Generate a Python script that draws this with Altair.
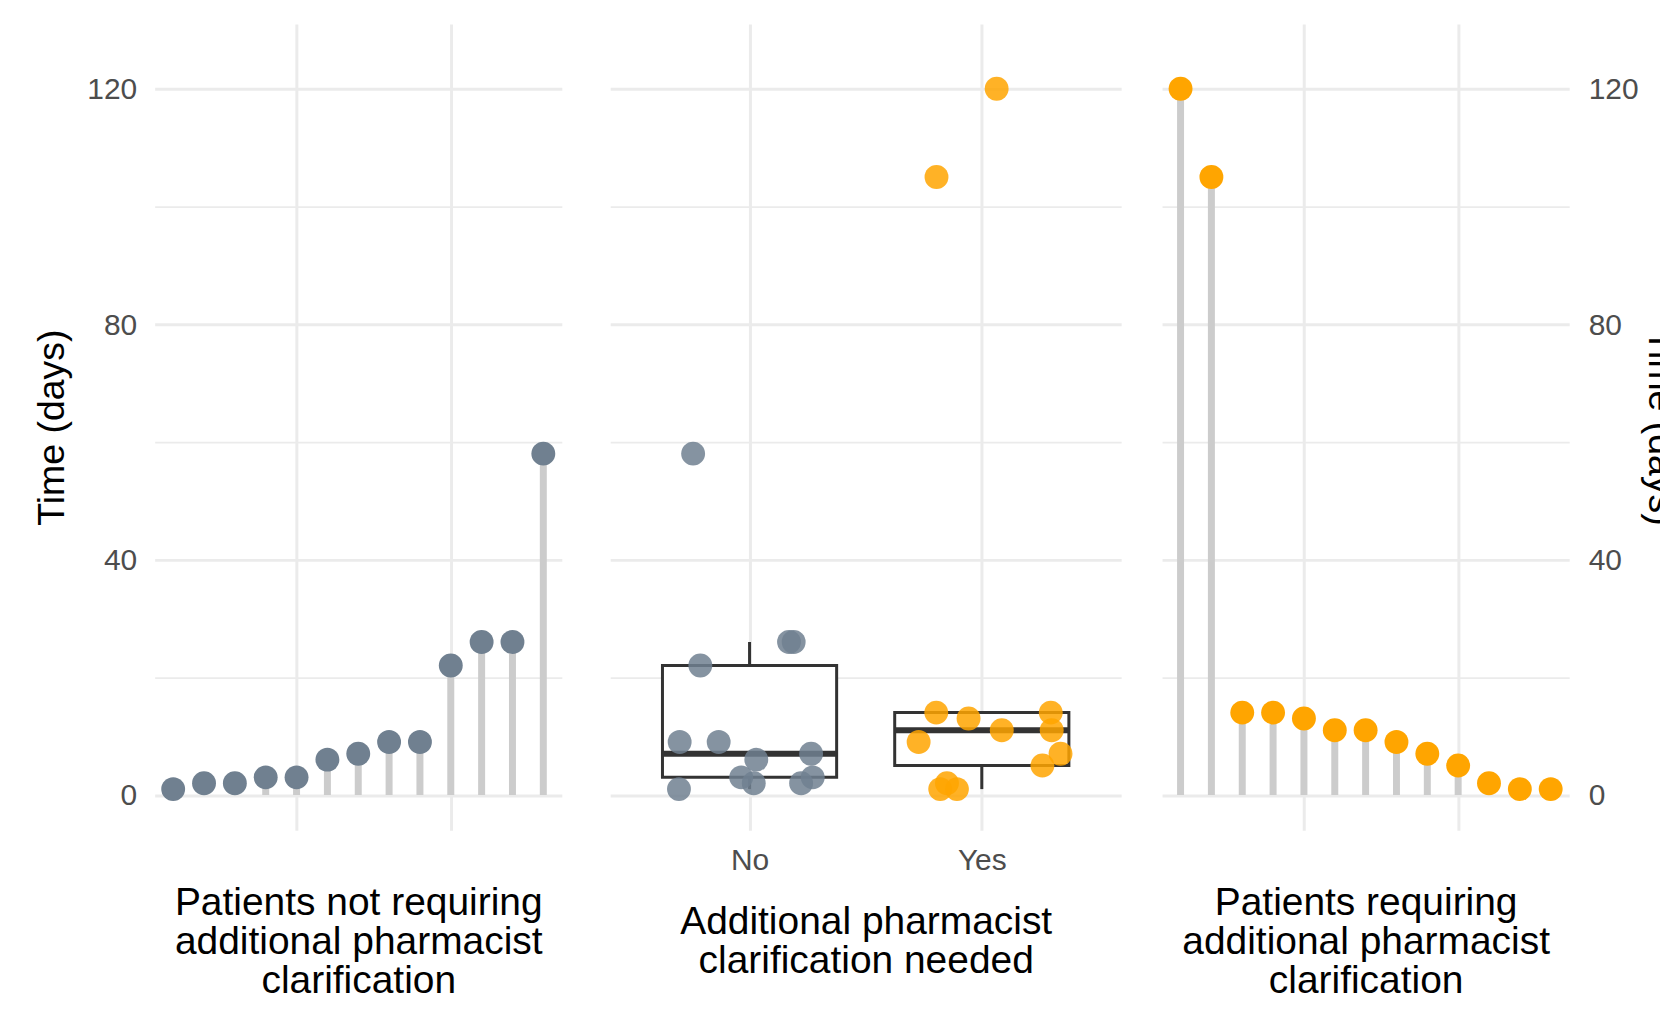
import json
import altair as alt
import numpy as np
import pandas as pd

# ---------------- data ----------------
no_times = [1, 2, 2, 3, 3, 6, 7, 9, 9, 22, 26, 26, 58]
yes_times = [120, 105, 14, 14, 13, 11, 11, 9, 7, 5, 2, 1, 1]
# horizontal jitter (in category units)
no_jitter = [-0.304, 0.018, 0.222, -0.036, 0.272, 0.029, 0.265, -0.301, -0.133, -0.212, 0.17, 0.19, -0.243]
yes_jitter = [0.064, -0.195, -0.196, 0.297, -0.057, 0.086, 0.301, -0.272, 0.339, 0.261, -0.150, -0.179, -0.107]
groups = ["No", "Yes"]
y_major = [0, 40, 80, 120]
y_minor = [20, 60, 100]
lolli_breaks = [5, 10]
left_title = ["Patients not requiring", "additional pharmacist", "clarification"]
mid_title = ["Additional pharmacist", "clarification needed"]
right_title = ["Patients requiring", "additional pharmacist", "clarification"]
y_title = "Time (days)"

GRAY = "#708090"
ORANGE = "#FFA500"
STEM = "#CCCCCC"
GRID = "#EBEBEB"
BOX = "#333333"
LABEL = "#4D4D4D"
FONT = "Liberation Sans"

Y_DOMAIN = [-6, 131]
PANEL_H = 808
TICK_FS = 30
XTITLE_FS = 39
YTITLE_FS = 37.5

left_df = pd.DataFrame({"idx": list(range(1, len(no_times) + 1)), "time": no_times})
right_df = pd.DataFrame({"idx": list(range(1, len(yes_times) + 1)), "time": yes_times})
mid_df = pd.DataFrame({
    "group": [groups[0]] * len(no_times) + [groups[1]] * len(yes_times),
    "time": no_times + yes_times,
    "xpos": [1 + j for j in no_jitter] + [2 + j for j in yes_jitter],
})

# boxplot statistics (R type-7 quantiles, 1.5 IQR whiskers)
rows = []
for gi, (g, vals) in enumerate(zip(groups, [no_times, yes_times])):
    v = np.array(vals, dtype=float)
    q1, med, q3 = np.percentile(v, [25, 50, 75])
    iqr = q3 - q1
    lo = v[v >= q1 - 1.5 * iqr].min()
    hi = v[v <= q3 + 1.5 * iqr].max()
    rows.append({"group": g, "xc": gi + 1, "xl": gi + 1 - 0.375, "xr": gi + 1 + 0.375,
                 "q1": q1, "med": med, "q3": q3, "lo": lo, "hi": hi})
box_df = pd.DataFrame(rows)

all_y = sorted(y_major + y_minor)
major_test = "datum.value % 40 === 0"
grid_w = {"condition": {"test": major_test, "value": 3}, "value": 1.7}

yscale = alt.Scale(domain=Y_DOMAIN, nice=False, zero=False)


def y_axis(orient, show):
    if show:
        return alt.Axis(values=all_y, orient=orient, labelExpr=f"{major_test} ? datum.label : ''",
                        gridWidth=grid_w, gridColor=GRID, ticks=False, domain=False,
                        labelFontSize=TICK_FS, labelColor=LABEL, labelFont=FONT,
                        labelPadding=18 if orient == "left" else 19, labelOverlap=False,
                        labelOffset=1,
                        title=y_title, titleFontSize=YTITLE_FS, titleFont=FONT,
                        titleFontWeight="normal", titleColor="black",
                        titlePadding=15 if orient == "left" else 2.5)
    return alt.Axis(values=all_y, labels=False, ticks=False, domain=False, title=None,
                    gridWidth=grid_w, gridColor=GRID)


def lolli_x(title):
    return alt.X("idx:Q", scale=alt.Scale(domain=[0.4, 13.6], nice=False, zero=False),
                 axis=alt.Axis(values=lolli_breaks, labels=False, ticks=False, domain=False,
                               gridWidth=3, gridColor=GRID, title=title, titleFontSize=XTITLE_FS,
                               titleFont=FONT, titleFontWeight="normal", titleColor="black",
                               titleLineHeight=39.5, titlePadding=53))


def lollipop(df, color, title, orient):
    base = alt.Chart(df)
    stems = base.mark_rule(color=STEM, strokeWidth=7).encode(
        x=lolli_x(title),
        y=alt.Y("time:Q", scale=yscale, axis=y_axis(orient, True)),
        y2=alt.datum(0),
    )
    dots = base.mark_circle(size=573, color=color, opacity=1).encode(
        x="idx:Q", y="time:Q"
    )
    return alt.layer(stems, dots).properties(width=408, height=PANEL_H)


left = lollipop(left_df, GRAY, left_title, "left")
right = lollipop(right_df, ORANGE, right_title, "right")

label_expr = f"{json.dumps(groups)}[datum.value - 1]"
mid_x = alt.X("xc:Q", scale=alt.Scale(domain=[0.4, 2.6], nice=False, zero=False),
              axis=alt.Axis(values=[1, 2], labelExpr=label_expr, ticks=False, domain=False,
                            gridWidth=3, gridColor=GRID, labelFontSize=TICK_FS, labelColor=LABEL,
                            labelFont=FONT, labelPadding=15, labelFlush=False,
                            title=mid_title, titleFontSize=XTITLE_FS, titleFont=FONT,
                            titleFontWeight="normal", titleColor="black",
                            titleLineHeight=39.5, titlePadding=27.5))

bb = alt.Chart(box_df)
whisk_hi = bb.mark_rule(color=BOX, strokeWidth=3).encode(
    x=mid_x, y=alt.Y("q3:Q", scale=yscale, axis=y_axis("left", False)), y2="hi:Q")
whisk_lo = bb.mark_rule(color=BOX, strokeWidth=3).encode(x="xc:Q", y="lo:Q", y2="q1:Q")
box = bb.mark_rect(fill="white", stroke=BOX, strokeWidth=3).encode(
    x="xl:Q", x2="xr:Q", y="q1:Q", y2="q3:Q")
median = bb.mark_rule(color=BOX, strokeWidth=6).encode(x="xl:Q", x2="xr:Q", y="med:Q")
pts = alt.Chart(mid_df).mark_circle(size=573, opacity=0.85).encode(
    x="xpos:Q", y="time:Q",
    color=alt.Color("group:N", scale=alt.Scale(domain=groups, range=[GRAY, ORANGE]), legend=None),
)
middle = alt.layer(whisk_hi, whisk_lo, box, median, pts).properties(width=512, height=PANEL_H)

inner = alt.hconcat(left, middle, spacing=48.5)
chart = (
    alt.hconcat(inner, right, spacing=40.5)
    .properties(padding={"left": 33, "right": -19.5, "top": 23, "bottom": 0})
    .configure(font=FONT, background="white")
    .configure_view(stroke="transparent", strokeWidth=0)
)

chart.save("out.html", embed_options={"renderer": "svg", "actions": False})
